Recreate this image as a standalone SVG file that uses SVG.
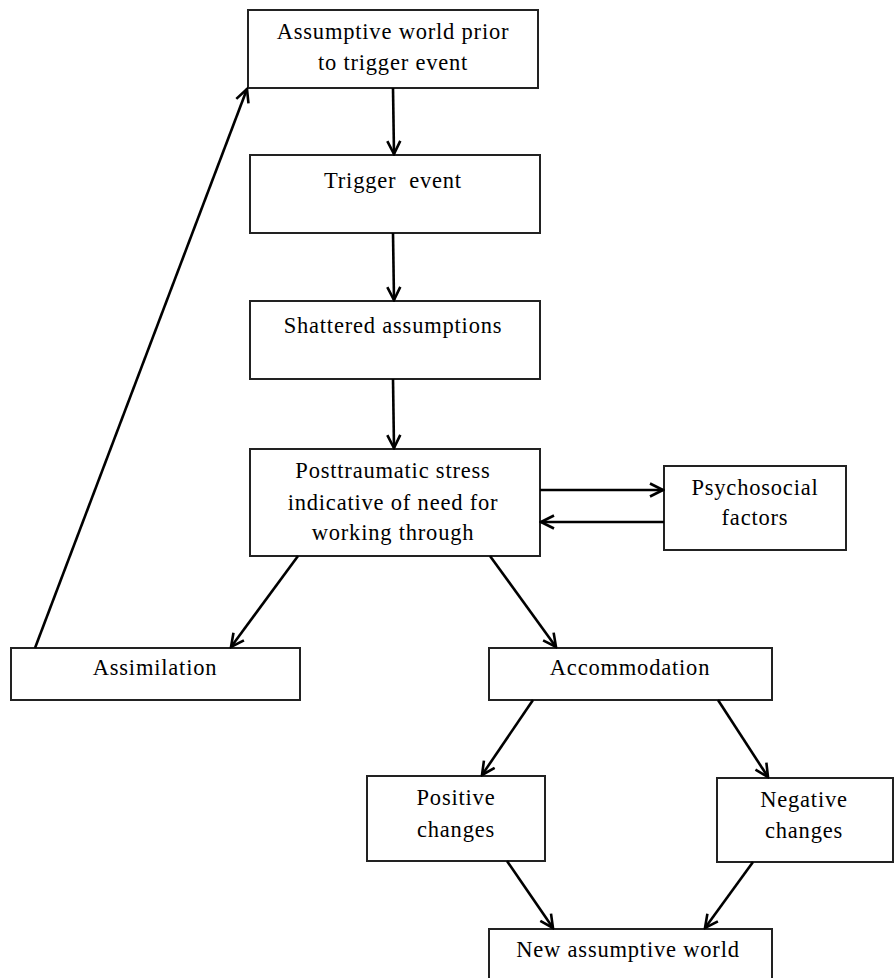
<svg xmlns="http://www.w3.org/2000/svg" width="895" height="978" viewBox="0 0 895 978">
<defs>
<marker id="ah" viewBox="0 0 16 16" refX="14" refY="8" markerWidth="16" markerHeight="16" markerUnits="userSpaceOnUse" orient="auto">
<path d="M1,1.5 L14,8 L1,14.5" fill="none" stroke="#000" stroke-width="2.6"/>
</marker>
<style>
.box{fill:#fff;stroke:#222;stroke-width:2}
.t{font-family:"Liberation Serif","Times New Roman",serif;font-size:22.5px;letter-spacing:0.8px;fill:#000;text-anchor:middle}
.c{stroke:#000;stroke-width:2.6;fill:none;marker-end:url(#ah)}
</style>
</defs>
<rect width="895" height="978" fill="#fff"/>
<g id="n1"><rect class="box" x="248" y="10" width="290" height="78"/><text class="t" x="393" y="39">Assumptive world prior</text><text class="t" x="393" y="70">to trigger event</text></g>
<g id="n2"><rect class="box" x="250" y="155" width="290" height="78"/><text class="t" x="393" y="188" xml:space="preserve">Trigger  event</text></g>
<g id="n3"><rect class="box" x="250" y="301" width="290" height="78"/><text class="t" x="393" y="333">Shattered assumptions</text></g>
<g id="n4"><rect class="box" x="250" y="449" width="290" height="107"/><text class="t" x="393" y="478">Posttraumatic stress</text><text class="t" x="393" y="510">indicative of need for</text><text class="t" x="393" y="540">working through</text></g>
<g id="n5"><rect class="box" x="664" y="466" width="182" height="84"/><text class="t" x="755" y="495">Psychosocial</text><text class="t" x="755" y="525">factors</text></g>
<g id="n6"><rect class="box" x="11" y="648" width="289" height="52"/><text class="t" x="155" y="675">Assimilation</text></g>
<g id="n7"><rect class="box" x="489" y="648" width="283" height="52"/><text class="t" x="630" y="675">Accommodation</text></g>
<g id="n8"><rect class="box" x="367" y="776" width="178" height="85"/><text class="t" x="456" y="805">Positive</text><text class="t" x="456" y="837">changes</text></g>
<g id="n9"><rect class="box" x="717" y="778" width="176" height="84"/><text class="t" x="804" y="807">Negative</text><text class="t" x="804" y="838">changes</text></g>
<g id="n10"><rect class="box" x="489" y="929" width="283" height="60"/><text class="t" x="628" y="957">New assumptive world</text></g>
<g id="connectors">
<line class="c" x1="393" y1="88" x2="394" y2="154"/>
<line class="c" x1="393" y1="233" x2="394" y2="300"/>
<line class="c" x1="393" y1="379" x2="394" y2="448"/>
<line class="c" x1="540" y1="490" x2="663" y2="490"/>
<line class="c" x1="664" y1="522" x2="541" y2="522"/>
<line class="c" x1="298" y1="556" x2="231" y2="647"/>
<line class="c" x1="35" y1="648" x2="247" y2="89"/>
<line class="c" x1="490" y1="556" x2="556" y2="647"/>
<line class="c" x1="533" y1="700" x2="482" y2="775"/>
<line class="c" x1="718" y1="700" x2="768" y2="777"/>
<line class="c" x1="507" y1="861" x2="553" y2="928"/>
<line class="c" x1="753" y1="862" x2="705" y2="928"/>
</g>
</svg>
